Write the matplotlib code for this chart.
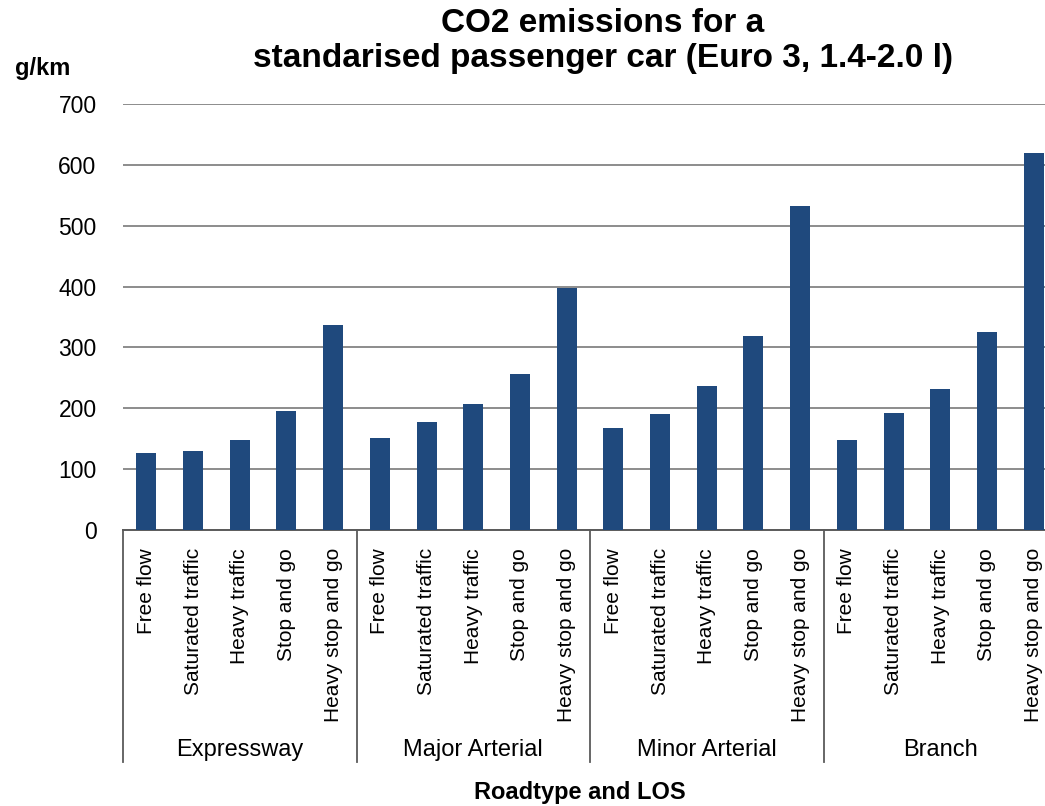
import matplotlib

matplotlib.use("Agg")

import matplotlib.pyplot as plt
import matplotlib.transforms as mtransforms
import numpy as np

ROAD_TYPES = ["Expressway", "Major Arterial", "Minor Arterial", "Branch"]
LOS_LEVELS = [
    "Free flow",
    "Saturated traffic",
    "Heavy traffic",
    "Stop and go",
    "Heavy stop and go",
]

# g/km per road type, in LOS order
EXPRESSWAY = [126, 130, 148, 196, 337]
MAJOR_ARTERIAL = [151, 178, 207, 257, 398]
MINOR_ARTERIAL = [168, 190, 237, 318, 533]
BRANCH = [148, 193, 232, 325, 620]

Y_TICKS = [0, 100, 200, 300, 400, 500, 600, 700]

BAR_COLOR = "#1F497D"
GRID_COLOR = "#8C8C8C"
LINE_COLOR = "#5A5A5A"

W, H = 1045, 806

plt.rcParams.update(
    {
        "font.family": ["Liberation Sans", "DejaVu Sans"],
        "font.size": 15,
    }
)


def plot_emissions(out_path: str = "out.png") -> None:
    values = EXPRESSWAY + MAJOR_ARTERIAL + MINOR_ARTERIAL + BRANCH
    labels = LOS_LEVELS * len(ROAD_TYPES)
    n_los = len(LOS_LEVELS)
    x = np.arange(len(values))

    fig = plt.figure(figsize=(W / 100, H / 100), dpi=100)
    # axes run past the right edge, as in the source image
    ax = fig.add_axes(
        [123 / W, (H - 530) / H, 934 / W, (530 - 104) / H]
    )

    ax.bar(x, values, width=0.43, color=BAR_COLOR, zorder=3)

    ax.set_xlim(-0.5, len(values) - 0.5)
    ax.set_ylim(0, 700)
    ax.set_yticks(Y_TICKS)
    ax.yaxis.grid(True, color=GRID_COLOR, linewidth=1.4, zorder=0)
    ax.tick_params(axis="y", length=0, pad=19, labelsize=16.5)

    ax.set_xticks(x)
    ax.set_xticklabels(labels, rotation=90, va="top", ha="center")
    ax.tick_params(axis="x", length=0, pad=13, labelsize=15)

    for side in ["left", "right", "top"]:
        ax.spines[side].set_visible(False)
    ax.spines["bottom"].set_color(LINE_COLOR)
    ax.spines["bottom"].set_linewidth(1.4)

    trans = mtransforms.blended_transform_factory(ax.transData, ax.transAxes)
    sep_bottom = -(762 - 530) / (530 - 104)
    for g in range(len(ROAD_TYPES) + 1):
        xs = g * n_los - 0.5
        ax.plot(
            [xs, xs], [0, sep_bottom], color=LINE_COLOR, linewidth=1.3,
            transform=trans, clip_on=False,
        )
    label_y = -(750 - 530) / (530 - 104)
    for g, name in enumerate(ROAD_TYPES):
        ax.text(
            g * n_los + (n_los - 1) / 2, label_y, name, transform=trans,
            ha="center", va="center", fontsize=17,
        )

    fig.text(
        603 / W, 1 - 24 / H, "CO2 emissions for a",
        ha="center", va="center", fontsize=24, fontweight="bold",
    )
    fig.text(
        603 / W, 1 - 58 / H, "standarised passenger car (Euro 3, 1.4-2.0 l)",
        ha="center", va="center", fontsize=24, fontweight="bold",
    )
    fig.text(
        15 / W, 1 - 69 / H, "g/km",
        ha="left", va="center", fontsize=17, fontweight="bold",
    )
    fig.text(
        580 / W, 1 - 792 / H, "Roadtype and LOS",
        ha="center", va="center", fontsize=17, fontweight="bold",
    )

    fig.savefig(out_path, dpi=100)
    plt.close(fig)


def main() -> None:
    plot_emissions()


if __name__ == "__main__":
    main()
